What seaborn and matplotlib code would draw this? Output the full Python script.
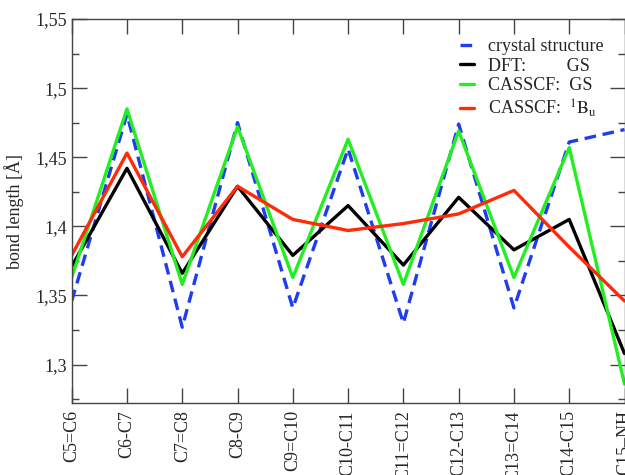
import numpy as np
import pandas as pd
import matplotlib
matplotlib.use("Agg")
import matplotlib.pyplot as plt
import seaborn as sns

# ------------------ Daten (Bindungslängen in Angström) ------------------
bonds = ["C5=C6", "C6-C7", "C7=C8", "C8-C9", "C9=C10", "C10-C11",
         "C11=C12", "C12-C13", "C13=C14", "C14-C15", "C15–NH"]
crystal = [1.346, 1.481, 1.327, 1.475, 1.341, 1.456, 1.330, 1.474, 1.341, 1.461, 1.470]
dft_gs = [1.371, 1.442, 1.366, 1.429, 1.379, 1.415, 1.372, 1.421, 1.383, 1.405, 1.308]
casscf_gs = [1.363, 1.485, 1.358, 1.472, 1.363, 1.463, 1.358, 1.469, 1.363, 1.457, 1.286]
casscf_bu = [1.379, 1.453, 1.378, 1.429, 1.405, 1.397, 1.402, 1.409, 1.426, 1.385, 1.346]

series_names = ["crystal structure", "DFT:         GS", "CASSCF:  GS",
                r"CASSCF:  $^{1}\mathrm{B}_{\mathrm{u}}$"]
yticks = [1.3, 1.35, 1.4, 1.45, 1.5, 1.55]
ytick_labels = ["1,3", "1,35", "1,4", "1,45", "1,5", "1,55"]

# Long-Format DataFrame für seaborn
df = pd.DataFrame({
    "pos": np.tile(np.arange(len(bonds)), 4),
    "length": crystal + dft_gs + casscf_gs + casscf_bu,
    "series": np.repeat(series_names, len(bonds)),
})

sns.set_style("ticks")
plt.rcParams["font.family"] = ["Liberation Serif", "DejaVu Serif"]
plt.rcParams["mathtext.fontset"] = "stix"

fig = plt.figure(figsize=(6.25, 4.75), dpi=100)
ax = fig.add_axes([0.1147, 0.151, 0.8845, 0.809])

palette = dict(zip(series_names, ["#1f3cf0", "black", "#22ee22", "#ff2a0a"]))
dashes = dict(zip(series_names, [(3.5, 2), "", "", ""]))

sns.lineplot(data=df, x="pos", y="length", hue="series", style="series",
             palette=palette, dashes=dashes, linewidth=2.4, ax=ax,
             sort=False, estimator=None)

ax.set_xlim(0, 10)
ax.set_ylim(1.272, 1.55)
ax.set_xticks(np.arange(len(bonds)))
ax.set_xticklabels(bonds, rotation=90, fontsize=13)
ax.set_yticks(yticks)
ax.set_yticklabels(ytick_labels, fontsize=13)
ax.set_yticks(np.arange(1.275, 1.55, 0.05), minor=True)
ax.tick_params(axis="both", which="major", direction="in", length=11, width=1,
               top=True, right=True, color="#444444")
ax.tick_params(axis="y", which="minor", direction="in", length=5, width=1,
               right=True, color="#444444")
ax.tick_params(axis="x", which="major", pad=5)
for sp in ax.spines.values():
    sp.set_visible(True)
    sp.set_color("#444444")
    sp.set_linewidth(1)

ax.set_xlabel("")
ax.set_ylabel("bond length [Å]", fontsize=13, labelpad=8)

# Legende oben rechts, ohne Rahmen
leg = ax.legend(loc="upper left", bbox_to_anchor=(451 / 625, 1 - 29 / 475),
                bbox_transform=fig.transFigure, frameon=False, fontsize=13,
                handlelength=0.8, handletextpad=0.75, borderpad=0,
                labelspacing=0.15)

fig.savefig("out.png", dpi=100)
